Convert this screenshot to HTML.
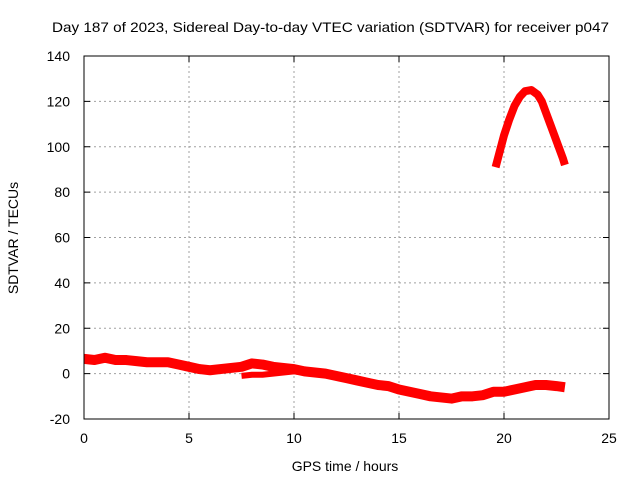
<!DOCTYPE html>
<html><head><meta charset="utf-8"><style>
body{margin:0;background:#fff;}
svg{display:block;font-family:"Liberation Sans",sans-serif;}
</style></head><body>
<svg id="chart" width="640" height="480">
<text x="52" y="32" font-size="14" textLength="557" lengthAdjust="spacingAndGlyphs">Day 187 of 2023, Sidereal Day-to-day VTEC variation (SDTVAR) for receiver p047</text>
<g id="grid"></g><g id="series"></g><g id="axes"></g>
<text x="345" y="471" font-size="14" text-anchor="middle">GPS time / hours</text>
<text x="18" y="238" font-size="14" text-anchor="middle" transform="rotate(-90 18 238)">SDTVAR / TECUs</text>
</svg>
<script>
const xTicks=[0,5,10,15,20,25];
const yTicks=[-20,0,20,40,60,80,100,120,140];
const mainHours=[0,0.5,1,1.5,2,2.5,3,3.5,4,4.5,5,5.5,6,6.5,7,7.5,8,8.5,9,9.5,10,10.5,11,11.5,12,12.5,13,13.5,14,14.5,15,15.5,16,16.5,17,17.5,18,18.5,19,19.5,20,20.5,21,21.5,22,22.5,22.9];
const mainValues=[6.5,6,7,6,6,5.5,5,5,5,4,3,2,1.5,2,2.5,3,4.5,4,3,2.5,2,1,0.5,0,-1,-2,-3,-4,-5,-5.5,-7,-8,-9,-10,-10.5,-11,-10,-10,-9.5,-8,-8,-7,-6,-5,-5,-5.5,-6];
const lowHours=[7.5,8,8.5,9,9.5,10,10.5,11];
const lowValues=[-1,-0.5,-0.5,0,0.5,1,0.5,0];
const arcHours=[19.6,19.8,20,20.25,20.5,20.75,21,21.3,21.6,21.8,22,22.2,22.4,22.6,22.8,22.9];
const arcValues=[91,98,105,112,118,122,124.5,125,123,120,115,110,105,100,95,92];
const X0=84,X1=609,Y0=419,Y1=56;
const sx=v=>X0+(v-0)/25*(X1-X0);
const sy=v=>Y0-(v+20)/160*(Y0-Y1);
const NS="http://www.w3.org/2000/svg";
const grid=document.getElementById('grid'),axes=document.getElementById('axes'),ser=document.getElementById('series');
function mk(tag,attrs,parent){const e=document.createElementNS(NS,tag);for(const k in attrs)e.setAttribute(k,attrs[k]);parent.appendChild(e);return e;}
xTicks.forEach(t=>{const x=sx(t);
 if(t>0&&t<25){const g=mk('line',{x1:x,x2:x,y1:Y1,y2:Y0,stroke:'#a0a0a0','stroke-dasharray':'2,3'},grid);
 
 }
 mk('line',{x1:x,x2:x,y1:Y0,y2:Y0-6,stroke:'#000'},axes);
 mk('line',{x1:x,x2:x,y1:Y1,y2:Y1+6,stroke:'#000'},axes);
 const tx=mk('text',{x:x,y:Y0+24,'font-size':14,'text-anchor':'middle'},axes);tx.textContent=t;
 
 });
yTicks.forEach(t=>{const y=sy(t);
 if(t>-20&&t<140){const g=mk('line',{x1:X0,x2:X1,y1:y,y2:y,stroke:'#a0a0a0','stroke-dasharray':'2,3'},grid);
 
 }
 mk('line',{x1:X0,x2:X0+6,y1:y,y2:y,stroke:'#000'},axes);
 mk('line',{x1:X1,x2:X1-6,y1:y,y2:y,stroke:'#000'},axes);
 const tx=mk('text',{x:X0-14,y:y+5,'font-size':14,'text-anchor':'end'},axes);tx.textContent=t;
 
 });
const fr=mk('rect',{x:X0,y:Y1,width:X1-X0,height:Y0-Y1,fill:'none',stroke:'#000'},axes);


function series(hs,vs,w,name){const pts=hs.map((h,i)=>sx(h)+','+sy(vs[i])).join(' ');
 const p=mk('polyline',{points:pts,fill:'none',stroke:'#f00','stroke-width':w,'stroke-linejoin':'round','stroke-linecap':'butt'},ser);
 
 }
series(mainHours,mainValues,10,'sdtvar-main-series');
series(lowHours,lowValues,6,'sdtvar-secondary-series');
series(arcHours,arcValues,8,'sdtvar-arc-series');
</script>
</body></html>
